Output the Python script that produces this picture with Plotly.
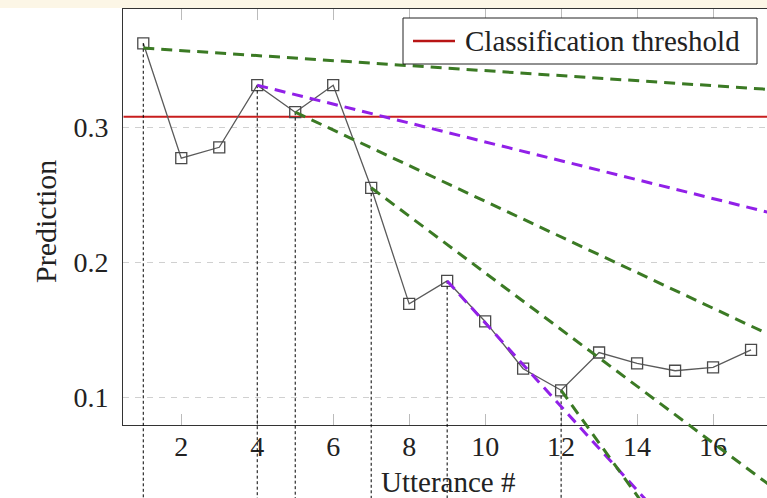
import plotly.graph_objects as go

# ---- data ----
utterance = list(range(1, 18))
prediction = [0.362, 0.277, 0.285, 0.331, 0.311, 0.331, 0.255, 0.169, 0.186,
              0.156, 0.121, 0.105, 0.133, 0.125, 0.1195, 0.122, 0.135]
threshold = 0.3076
threshold_label = "Classification threshold"

# tangent (trend) lines: start utterance, start value, slope per utterance, kind
tangent_x = [1, 4, 5, 7, 9, 12]
tangent_y = [0.3585, 0.331, 0.311, 0.255, 0.186, 0.105]
tangent_slope = [-0.00186, -0.0070, -0.0132, -0.0210, -0.0310, -0.0390]
tangent_kind = ["green", "purple", "green", "green", "purple", "green"]

x_ticks = [2, 4, 6, 8, 10, 12, 14, 16]
y_ticks = [0.1, 0.2, 0.3]

# ---- layout geometry ----
W, H = 767, 498
x_range = [0.474, 17.42]
y_range = [0.0793, 0.3872]
x_dom = [123.3 / W, 1.0]
y_dom = [(H - 425) / H, (H - 9.3) / H]


def full_range(r, d):
    span = (r[1] - r[0]) / (d[1] - d[0])
    return [r[0] - d[0] * span, r[1] + (1 - d[1]) * span]


x2_range = full_range(x_range, x_dom)
y2_range = full_range(y_range, y_dom)

COLORS = {"green": "#3b7a24", "purple": "#9120e8"}
RED = "#c81e1e"
SERIF = "Liberation Serif"

fig = go.Figure()

# vertical dotted guide lines (unclipped, on full-figure axes)
for xs in tangent_x:
    yv = prediction[utterance.index(xs)]
    fig.add_trace(go.Scatter(x=[xs, xs], y=[yv, -0.2], mode="lines",
                             line=dict(color="black", width=1, dash="3px,2.5px"),
                             xaxis="x2", yaxis="y2", showlegend=False, hoverinfo="skip"))

# threshold
fig.add_trace(go.Scatter(x=x_range, y=[threshold, threshold], mode="lines",
                         line=dict(color=RED, width=2),
                         name=threshold_label, showlegend=False))

# main series
fig.add_trace(go.Scatter(x=utterance, y=prediction, mode="lines+markers",
                         line=dict(color="#5a5a5a", width=1.3),
                         marker=dict(symbol="square-open", size=11,
                                     color="#4a4a4a", line=dict(width=1.3)),
                         showlegend=False, cliponaxis=False))

# tangent lines
x_end = 22
for xs, ys, s, k in zip(tangent_x, tangent_y, tangent_slope, tangent_kind):
    fig.add_trace(go.Scatter(x=[xs, x_end], y=[ys, ys + s * (x_end - xs)], mode="lines",
                             line=dict(color=COLORS[k], width=3, dash="11px,7px"),
                             xaxis="x2", yaxis="y2", showlegend=False, hoverinfo="skip"))


def px(x):
    return x / W


def py(y):
    return (H - y) / H


shapes = [
    dict(type="rect", xref="paper", yref="paper", x0=0, x1=1,
         y0=py(8), y1=1, fillcolor="#fcf6e6", line=dict(width=0), layer="below"),
    # legend box
    dict(type="rect", xref="paper", yref="paper", x0=px(403), x1=px(757),
         y0=py(64), y1=py(18), fillcolor="white", line=dict(color="#222", width=1)),
    dict(type="line", xref="paper", yref="paper", x0=px(413), x1=px(455),
         y0=py(41), y1=py(41), line=dict(color="#b81515", width=2.5)),
]

fig.update_layout(
    width=W, height=H,
    margin=dict(l=0, r=0, t=0, b=0),
    paper_bgcolor="white",
    plot_bgcolor="rgba(0,0,0,0)",
    font=dict(family=SERIF, color="#222"),
    showlegend=False,
    xaxis=dict(domain=x_dom, range=x_range, tickvals=x_ticks,
               showgrid=False, zeroline=False,
               showline=True, linecolor="#333", linewidth=1.2, mirror="ticks",
               ticks="inside", ticklen=11, tickcolor="#bbbbbb", tickwidth=1,
               tickfont=dict(size=28, family=SERIF, color="#222"),
               ticklabelstandoff=-4),
    yaxis=dict(domain=y_dom, range=y_range, tickvals=y_ticks,
               ticktext=["0.1", "0.2", "0.3"],
               showgrid=True, gridcolor="#d0d0d0", griddash="6px,6px", gridwidth=1,
               zeroline=False, showline=True, linecolor="#333", linewidth=1.2,
               ticks="", tickfont=dict(size=28, family=SERIF, color="#222"),
               ticklabelstandoff=8),
    xaxis2=dict(domain=[0, 1], range=x2_range, visible=False, anchor="y2"),
    yaxis2=dict(domain=[0, 1], range=y2_range, visible=False, anchor="x2"),
    shapes=shapes,
    annotations=[
        dict(text=threshold_label, xref="paper", yref="paper", x=px(463), y=py(41),
             showarrow=False, font=dict(size=29, family=SERIF, color="#222"),
             xanchor="left", yanchor="middle"),
        dict(text="Prediction", xref="paper", yref="paper", x=px(45), y=py(222),
             textangle=-90, showarrow=False, font=dict(size=30, family=SERIF, color="#222"),
             xanchor="center", yanchor="middle"),
        dict(text="Utterance #", xref="paper", yref="paper", x=px(448), y=py(482),
             showarrow=False, font=dict(size=29, family=SERIF, color="#222"),
             xanchor="center", yanchor="middle"),
    ],
)

fig.write_html("out.html", config={"displayModeBar": False},
               post_script="document.body.style.margin='0';document.body.style.overflow='hidden';")
